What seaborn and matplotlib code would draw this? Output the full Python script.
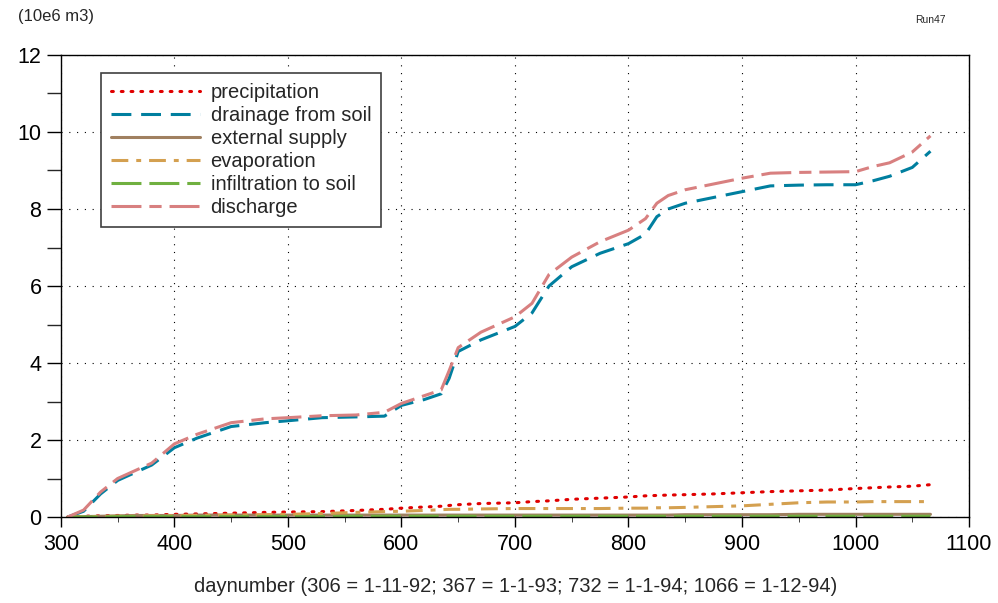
import numpy as np
import pandas as pd
import seaborn as sns
import matplotlib.pyplot as plt
from matplotlib.ticker import MultipleLocator

days = [306, 320, 335, 350, 365, 380, 400, 420, 450, 480, 500, 530, 560, 585,
        600, 620, 635, 642, 650, 670, 700, 715, 730, 750, 775, 800, 815, 825,
        835, 850, 875, 900, 925, 950, 975, 1000, 1015, 1030, 1050, 1066]

precipitation = [0.0, 0.02, 0.03, 0.04, 0.05, 0.05, 0.07, 0.08, 0.10, 0.12, 0.13, 0.14, 0.17, 0.20,
                 0.23, 0.26, 0.28, 0.30, 0.32, 0.35, 0.37, 0.40, 0.42, 0.46, 0.49, 0.52, 0.55, 0.56,
                 0.57, 0.58, 0.60, 0.63, 0.66, 0.68, 0.70, 0.74, 0.76, 0.78, 0.80, 0.84]
drainage = [0.0, 0.15, 0.60, 0.95, 1.15, 1.35, 1.80, 2.05, 2.35, 2.45, 2.50, 2.58, 2.60, 2.62,
            2.90, 3.05, 3.20, 3.60, 4.30, 4.60, 4.95, 5.30, 6.00, 6.50, 6.85, 7.10, 7.35, 7.80,
            8.00, 8.15, 8.30, 8.45, 8.60, 8.62, 8.63, 8.63, 8.73, 8.85, 9.08, 9.50]
external_supply = [0.0, 0.01, 0.02, 0.03, 0.04, 0.04, 0.04, 0.05, 0.05, 0.05, 0.05, 0.05, 0.05, 0.05,
                   0.05, 0.05, 0.05, 0.05, 0.05, 0.05, 0.05, 0.05, 0.05, 0.05, 0.05, 0.05, 0.05, 0.05,
                   0.05, 0.06, 0.06, 0.06, 0.06, 0.07, 0.07, 0.07, 0.07, 0.07, 0.07, 0.07]
evaporation = [0.0, 0.0, 0.01, 0.02, 0.02, 0.03, 0.03, 0.04, 0.05, 0.06, 0.07, 0.09, 0.12, 0.14,
               0.15, 0.17, 0.19, 0.20, 0.20, 0.21, 0.22, 0.22, 0.22, 0.22, 0.22, 0.23, 0.23, 0.24,
               0.24, 0.25, 0.27, 0.29, 0.33, 0.37, 0.39, 0.39, 0.40, 0.40, 0.40, 0.40]
infiltration = [0.0, 0.0, 0.0, 0.01, 0.01, 0.01, 0.01, 0.01, 0.01, 0.01, 0.01, 0.01, 0.02, 0.02,
                0.02, 0.02, 0.02, 0.02, 0.02, 0.02, 0.02, 0.02, 0.02, 0.02, 0.02, 0.02, 0.02, 0.02,
                0.02, 0.02, 0.02, 0.02, 0.02, 0.02, 0.02, 0.02, 0.02, 0.02, 0.02, 0.02]
discharge = [0.0, 0.18, 0.65, 1.00, 1.20, 1.40, 1.90, 2.15, 2.45, 2.55, 2.58, 2.63, 2.65, 2.72,
             2.95, 3.15, 3.30, 3.80, 4.40, 4.80, 5.20, 5.55, 6.30, 6.75, 7.15, 7.45, 7.75, 8.15,
             8.35, 8.50, 8.65, 8.80, 8.93, 8.95, 8.96, 8.97, 9.10, 9.20, 9.48, 9.90]

series_names = ["precipitation", "drainage from soil", "external supply",
                "evaporation", "infiltration to soil", "discharge"]
series_values = [precipitation, drainage, external_supply, evaporation, infiltration, discharge]
colors = ["#e00000", "#007f9f", "#a08060", "#d4a050", "#70b040", "#d88080"]
styles = [(0, (0.6, 2.6)), (0, (6.5, 3.2)), "-", (0, (5.5, 2.6, 1.6, 2.6)),
          (0, (9.8, 2.6)), (0, (9.8, 2.6, 4.0, 2.6))]

sns.set_style("ticks")
plt.rcParams["font.family"] = ["Liberation Sans", "DejaVu Sans"]

fig = plt.figure(figsize=(9.98, 6.03), dpi=100)
ax = fig.add_axes([0.061, 0.1426, 0.910, 0.7662])

for name, vals, col, ls in zip(series_names, series_values, colors, styles):
    df = pd.DataFrame({"day": days, "value": vals})
    sns.lineplot(data=df, x="day", y="value", color=col, linewidth=2.2,
                 linestyle=ls, label=name, ax=ax)
    if ls == styles[0]:
        ax.lines[-1].set_dash_capstyle("round")

ax.set_xlim(300, 1100)
ax.set_ylim(0, 12)
ax.xaxis.set_major_locator(MultipleLocator(100))
ax.xaxis.set_minor_locator(MultipleLocator(50))
ax.yaxis.set_major_locator(MultipleLocator(2))
ax.yaxis.set_minor_locator(MultipleLocator(1))
ax.tick_params(axis="both", which="major", labelsize=15.5, colors="black", width=1)
ax.tick_params(axis="y", which="both", length=10, width=1, pad=4)
ax.tick_params(axis="x", which="major", length=7, pad=5)
ax.tick_params(axis="x", which="minor", length=3.5)
ax.set_xlabel("")
ax.set_ylabel("")
ax.grid(which="major", color="black", linestyle=(0, (1, 6)), linewidth=0.8)
for sp in ax.spines.values():
    sp.set_visible(True)
    sp.set_color("black")
    sp.set_linewidth(1)

leg = ax.legend(loc="upper left", bbox_to_anchor=(0.044, 0.961), borderaxespad=0,
                fontsize=14.5, handlelength=4.4, handletextpad=0.55, labelspacing=0.2,
                frameon=True, fancybox=False, framealpha=1, edgecolor="#404040",
                borderpad=0.5)
leg.get_frame().set_linewidth(1.2)

fig.text(0.018, 0.973, "(10e6 m3)", fontsize=12, ha="left", va="center")
fig.text(0.917, 0.967, "Run47", fontsize=7.5, ha="left", va="center")
fig.text(0.517, 0.028, "daynumber (306 = 1-11-92; 367 = 1-1-93; 732 = 1-1-94; 1066 = 1-12-94)",
         fontsize=14.5, ha="center", va="center")

fig.savefig("out.png", dpi=100)
